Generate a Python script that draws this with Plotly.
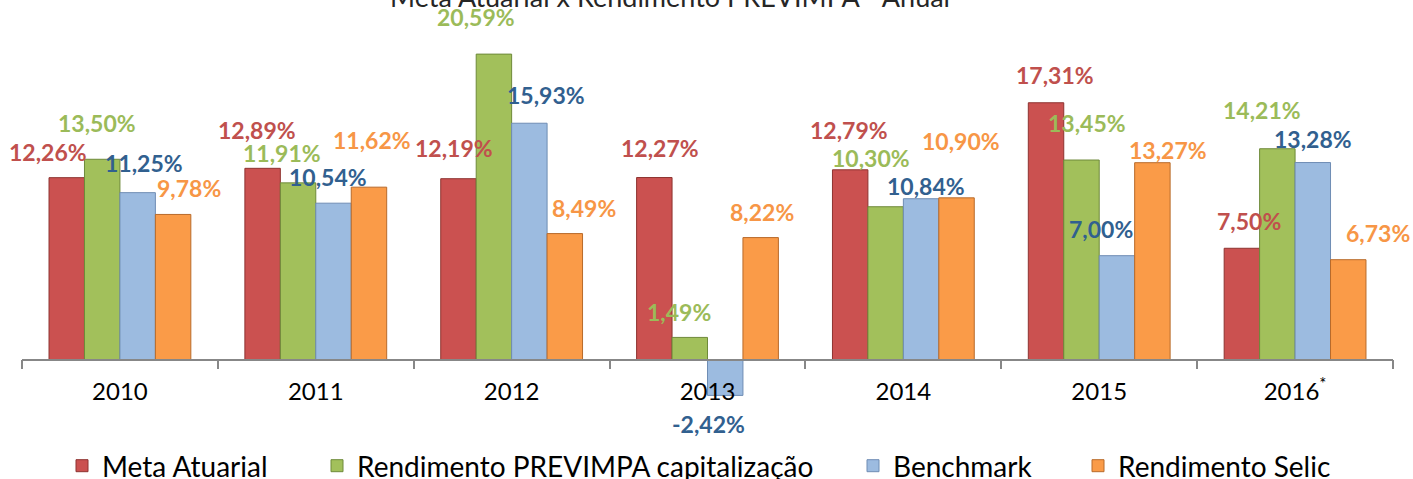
import plotly.graph_objects as go

# ---------------- data ----------------
categories = ["2010", "2011", "2012", "2013", "2014", "2015", "2016"]
tick_labels = ["2010", "2011", "2012", "2013", "2014", "2015", "2016<sup>*</sup>"]

meta_atuarial = [12.26, 12.89, 12.19, 12.27, 12.79, 17.31, 7.50]
rend_previmpa = [13.50, 11.91, 20.59, 1.49, 10.30, 13.45, 14.21]
benchmark = [11.25, 10.54, 15.93, -2.42, 10.84, 7.00, 13.28]
rend_selic = [9.78, 11.62, 8.49, 8.22, 10.90, 13.27, 6.73]

series_names = ["Meta Atuarial", "Rendimento PREVIMPA capitalização",
                "Benchmark", "Rendimento Selic"]
series_values = [meta_atuarial, rend_previmpa, benchmark, rend_selic]

title_text = "Meta Atuarial x Rendimento PREVIMPA - Anual"

# ---------------- style ----------------
bar_colors = ["#CB5150", "#A2C05B", "#9CBBE0", "#FA9B48"]
bar_lines = ["#8E3330", "#6E8A3A", "#6F8DB4", "#B86A2A"]
label_colors = ["#C0504D", "#9BBB59", "#31608F", "#F79646"]

# label nudges (pixels) relative to the bar centre / bar end, per series x year
label_dx = [
    [-19, -6, -5, 5, -1, 9, 7],
    [-5, -16, -18, -11, -15, 5, -15],
    [6, -5, 17, -17, 5, -16, 0],
    [16, 3, 19, 1, 5, 16, 30],
]
label_dy = [
    [26, 38, 31, 30, 40, 28, 27],
    [36, 30, 37, 25, 49, 37, 39],
    [30, 26, 28, -29, 13, 27, 24],
    [26, 47, 26, 26, 57, 13, 27],
]
series_shift = [-53, -17.7, 17.7, 53]
legend_text_px = [102, 357, 893, 1118]   # where each legend entry's text starts

FONT = "Lato"
ML, MR, MT, MB = 22, 20, 20, 79
W, H = 1413, 479
plot_w = W - ML - MR
plot_h = H - MT - MB

fig = go.Figure()
legend_ids = ["legend", "legend2", "legend3", "legend4"]
for name, vals, col, lc, lid in zip(series_names, series_values, bar_colors, bar_lines, legend_ids):
    fig.add_trace(go.Bar(
        x=categories, y=vals, name=name, legend=lid,
        marker=dict(color=col, line=dict(color=lc, width=1)),
    ))

def fmt(v):
    return f"{v:.2f}".replace(".", ",") + "%"

for si, vals in enumerate(series_values):
    for ci, v in enumerate(vals):
        fig.add_annotation(
            x=ci, y=v, xref="x", yref="y",
            text=fmt(v), showarrow=False,
            xshift=series_shift[si] + label_dx[si][ci],
            yshift=label_dy[si][ci],
            xanchor="center", yanchor="middle",
            font=dict(family=FONT, size=23, color=label_colors[si], weight="bold"),
        )

y_min, y_max = -2.73, 22.89

legend_y = (MT + plot_h - 466) / plot_h
legend_layout = {}
for lid, tx in zip(legend_ids, legend_text_px):
    legend_layout[lid] = dict(
        orientation="h", x=(tx - 40 - ML) / plot_w, xanchor="left",
        y=legend_y, yanchor="middle", bgcolor="rgba(0,0,0,0)",
        font=dict(family=FONT, size=28, color="#000000"),
    )

fig.update_layout(
    width=W, height=H,
    margin=dict(l=ML, r=MR, t=MT, b=MB, autoexpand=False),
    paper_bgcolor="white", plot_bgcolor="white",
    barmode="group", bargap=0.276, bargroupgap=0.0,
    showlegend=True,
    title=dict(text=title_text, x=670 / W, xanchor="center", xref="container",
               y=1 - 7 / H, yanchor="bottom", yref="container",
               font=dict(family=FONT, size=27, color="#262626")),
    xaxis=dict(
        type="category", range=[-0.5, len(categories) - 0.5],
        tickmode="array", tickvals=categories, ticktext=tick_labels,
        anchor="free", position=(0 - y_min) / (y_max - y_min),
        showline=True, linecolor="#878787", linewidth=1.5,
        ticks="outside", tickson="boundaries", ticklen=9, tickcolor="#878787",
        tickwidth=1.5, ticklabelstandoff=11,
        tickfont=dict(family=FONT, size=24, color="#000000"),
        showgrid=False, zeroline=False,
    ),
    yaxis=dict(range=[y_min, y_max], visible=False, showgrid=False, zeroline=False),
    **legend_layout,
)

fig.write_html("out.html",
               config={"displayModeBar": False},
               post_script="document.body.style.margin='0';document.body.style.overflow='hidden';")
